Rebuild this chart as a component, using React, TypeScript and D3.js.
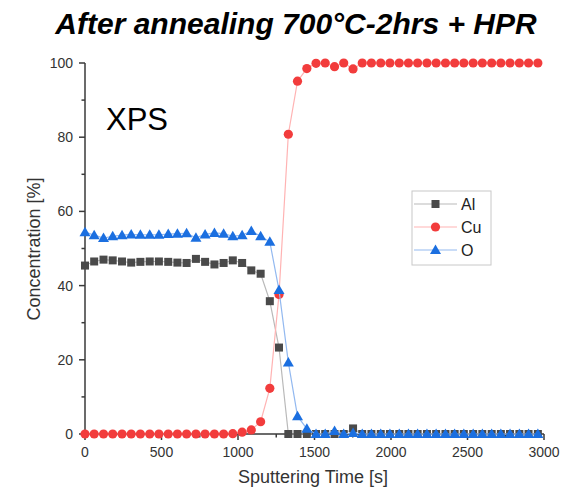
import React from "react";
import * as d3 from "d3";

const times = [0, 60, 121, 181, 242, 302, 362, 423, 483, 544, 604, 664, 725, 785, 846, 906, 966, 1027, 1087, 1148, 1208, 1268, 1329, 1389, 1450, 1510, 1570, 1631, 1691, 1752, 1812, 1872, 1933, 1993, 2054, 2114, 2174, 2235, 2295, 2356, 2416, 2476, 2537, 2597, 2658, 2718, 2778, 2839, 2899, 2960];

const alValues = [45.4, 46.5, 47.0, 46.8, 46.5, 46.2, 46.4, 46.5, 46.5, 46.4, 46.2, 46.1, 47.2, 46.4, 45.7, 46.1, 46.8, 46.1, 44.1, 43.2, 35.8, 23.3, 0, 0, 0, 0, 0, 0, 0, 1.5, 0, 0, 0, 0, 0, 0, 0, 0, 0, 0, 0, 0, 0, 0, 0, 0, 0, 0, 0, 0];

const cuValues = [0, 0, 0, 0, 0, 0, 0, 0, 0, 0, 0, 0, 0, 0, 0, 0, 0.1, 0.5, 1.1, 3.3, 12.3, 37.6, 80.8, 95.1, 98.5, 99.9, 100, 99.0, 100, 98.4, 100, 100, 100, 100, 100, 100, 100, 100, 100, 100, 100, 100, 100, 100, 100, 100, 100, 100, 100, 100];

const oValues = [54.4, 53.6, 52.8, 53.3, 53.6, 53.8, 53.7, 53.7, 53.7, 53.9, 54.0, 54.1, 52.9, 53.8, 54.2, 54.0, 53.3, 53.6, 54.7, 53.3, 51.8, 38.8, 19.3, 4.8, 1.4, 0, 0, 0.8, 0, 0.3, 0, 0, 0, 0, 0, 0, 0, 0, 0, 0, 0, 0, 0, 0, 0, 0, 0, 0, 0, 0];

const seriesNames = ["Al", "Cu", "O"];
const xTicks = [0, 500, 1000, 1500, 2000, 2500, 3000];
const yTicks = [0, 20, 40, 60, 80, 100];
const xMinor = [250, 750, 1250, 1750, 2250, 2750];
const yMinor = [10, 30, 50, 70, 90];

const FONT = "'Liberation Sans', Arial, sans-serif";

const styles = [
  { line: "#b9b9b9", fill: "#4a4a4a", shape: "square" },
  { line: "#ffb3b3", fill: "#f23c3c", shape: "circle" },
  { line: "#93b9f0", fill: "#1b6fe0", shape: "triangle" },
];

function Marker({ shape, cx, cy, fill }: { shape: string; cx: number; cy: number; fill: string }) {
  if (shape === "square") return <rect x={cx - 4} y={cy - 4} width={8} height={8} fill={fill} />;
  if (shape === "circle") return <circle cx={cx} cy={cy} r={4.6} fill={fill} />;
  return <path d={`M${cx},${cy - 5.5} L${cx + 5.5},${cy + 4} L${cx - 5.5},${cy + 4} Z`} fill={fill} />;
}

export default function App() {
  const x = d3.scaleLinear().domain([0, 3000]).range([85, 544]);
  const y = d3.scaleLinear().domain([0, 100]).range([434, 63]);
  const all = [alValues, cuValues, oValues];
  const line = d3
    .line<number>()
    .x((_, i) => x(times[i]))
    .y((d) => y(d));
  const axisColor = "#3a3a3a";
  const legendRows = [204, 227, 250];
  return (
    <svg width={588} height={494} style={{ position: "absolute", left: 0, top: 0, background: "#fff" }} fontFamily={FONT}>
      <rect x={0} y={0} width={588} height={494} fill="#fff" />
      <text x={296} y={34} textAnchor="middle" fontSize={30} fontWeight="bold" fontStyle="italic" fill="#000">
        After annealing 700°C-2hrs + HPR
      </text>

      {/* axes */}
      <line x1={x(0)} x2={x(3000)} y1={y(0)} y2={y(0)} stroke={axisColor} strokeWidth={1.5} />
      <line x1={x(0)} x2={x(0)} y1={y(0)} y2={y(100)} stroke={axisColor} strokeWidth={1.5} />
      {xTicks.map((t) => (
        <g key={"xt" + t}>
          <line x1={x(t)} x2={x(t)} y1={y(0)} y2={y(0) + 6} stroke={axisColor} strokeWidth={1.5} />
          <text x={x(t)} y={457} textAnchor="middle" fontSize={14} fill="#333">
            {t}
          </text>
        </g>
      ))}
      {xMinor.map((t) => (
        <line key={"xm" + t} x1={x(t)} x2={x(t)} y1={y(0)} y2={y(0) + 3.5} stroke={axisColor} strokeWidth={1.5} />
      ))}
      {yTicks.map((t) => (
        <g key={"yt" + t}>
          <line x1={x(0) - 6} x2={x(0)} y1={y(t)} y2={y(t)} stroke={axisColor} strokeWidth={1.5} />
          <text x={73} y={y(t) + 5} textAnchor="end" fontSize={14} fill="#333">
            {t}
          </text>
        </g>
      ))}
      {yMinor.map((t) => (
        <line key={"ym" + t} x1={x(0) - 3.5} x2={x(0)} y1={y(t)} y2={y(t)} stroke={axisColor} strokeWidth={1.5} />
      ))}
      <text x={313} y={483} textAnchor="middle" fontSize={18} fill="#333">
        Sputtering Time [s]
      </text>
      <text transform="translate(40,249) rotate(-90)" textAnchor="middle" fontSize={18} fill="#333">
        Concentration [%]
      </text>
      <text x={106} y={130} fontSize={31} fill="#000">
        XPS
      </text>

      {/* series */}
      {all.map((vals, si) => (
        <g key={"s" + si}>
          <path d={line(vals) || ""} fill="none" stroke={styles[si].line} strokeWidth={1.2} />
          {vals.map((v, i) => (
            <Marker key={i} shape={styles[si].shape} cx={x(times[i])} cy={y(v)} fill={styles[si].fill} />
          ))}
        </g>
      ))}

      {/* legend */}
      <rect x={412} y={191} width={79} height={74} fill="#fff" stroke="#c8c8c8" strokeWidth={1} />
      {seriesNames.map((n, i) => (
        <g key={"l" + n}>
          <line x1={414} x2={457} y1={legendRows[i]} y2={legendRows[i]} stroke={styles[i].line} strokeWidth={1.2} />
          <Marker shape={styles[i].shape} cx={435.5} cy={legendRows[i]} fill={styles[i].fill} />
          <text x={461} y={legendRows[i] + 5.5} fontSize={16} fill="#222">
            {n}
          </text>
        </g>
      ))}
    </svg>
  );
}
